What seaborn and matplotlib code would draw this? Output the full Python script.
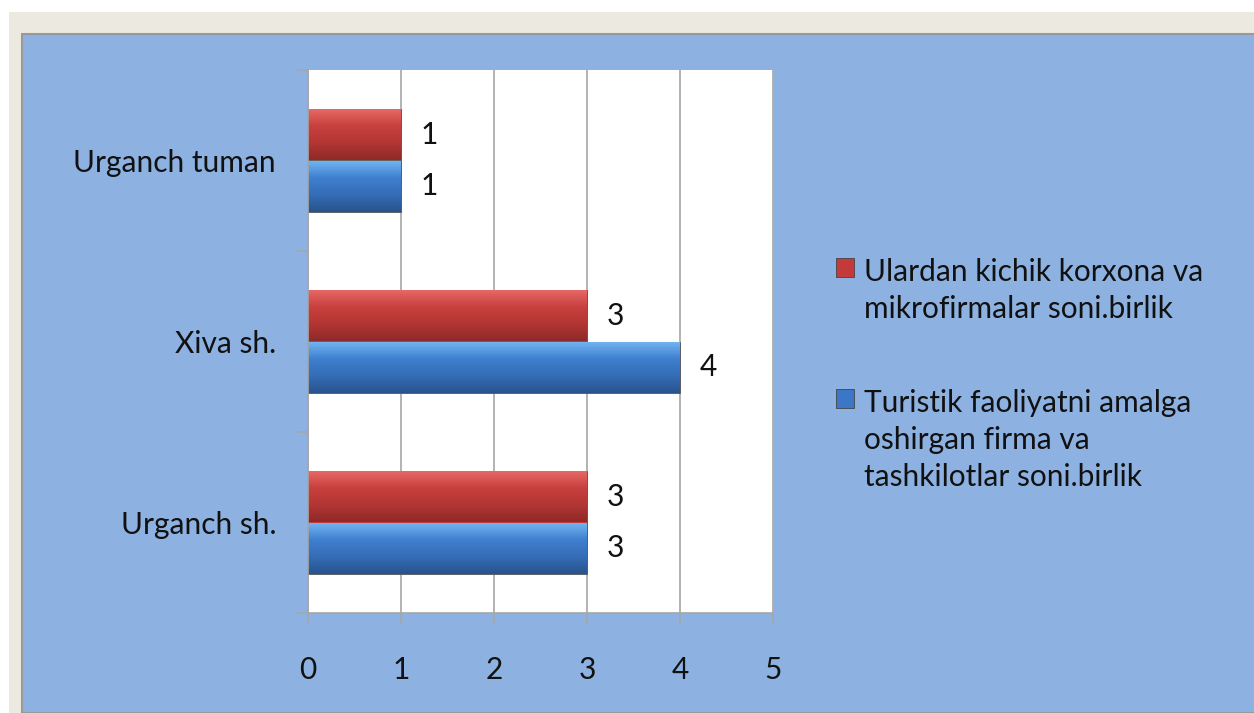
import matplotlib
matplotlib.use("Agg")
import matplotlib.pyplot as plt
from matplotlib.patches import Rectangle
from matplotlib.colors import LinearSegmentedColormap
from matplotlib.ticker import FixedLocator
import seaborn as sns
import pandas as pd
import numpy as np

# data
regions = ["Urganch tuman", "Xiva sh.", "Urganch sh."]
small_firms = [1, 3, 3]     # red series
tour_firms = [1, 4, 3]      # blue series
series_names = ["Ulardan kichik korxona va\nmikrofirmalar soni.birlik",
                "Turistik faoliyatni amalga\noshirgan firma va\ntashkilotlar soni.birlik"]
xticks = [0, 1, 2, 3, 4, 5]

df = pd.DataFrame({
    "region": regions * 2,
    "value": small_firms + tour_firms,
    "series": [series_names[0]] * 3 + [series_names[1]] * 3,
})

sns.set_style("white")
plt.rcParams["font.family"] = ["Lato", "DejaVu Sans"]
FS = 21.5

W, H = 1254, 713
fig = plt.figure(figsize=(W / 100, H / 100), dpi=100, facecolor="white")

# backgrounds: beige frame and blue chart panel
fig.patches.append(Rectangle((9 / W, 0), 1, 1 - 12 / H, transform=fig.transFigure,
                             facecolor="#ECEAE0", edgecolor="none", zorder=-3))
fig.patches.append(Rectangle((22 / W, 0), 1, 1 - 34 / H, transform=fig.transFigure,
                             facecolor="#8DB2E2", edgecolor="#999999", linewidth=1.5, zorder=-2))

ax = fig.add_axes([308 / W, 1 - 613 / H, (773 - 308) / W, (613 - 70) / H])
ax.set_facecolor("white")

sns.barplot(data=df, x="value", y="region", hue="series", orient="h",
            palette=["#C4393A", "#3B77C6"], width=0.57, ax=ax,
            edgecolor="#555555", linewidth=0.6, saturation=1)

# glossy bevel look: vertical gradient clipped to each bar
shades = [["#E86A68", "#C8413F", "#B33634", "#8E2A29"],
          ["#74B6F2", "#3F80D0", "#356DB6", "#28548E"]]
for cont, cols in zip(ax.containers, shades):
    cmap = LinearSegmentedColormap.from_list("g", cols)
    for bar in cont:
        x0, y0 = bar.get_x(), bar.get_y()
        w, h = bar.get_width(), bar.get_height()
        grad = np.linspace(0, 1, 64).reshape(-1, 1)
        im = ax.imshow(grad, cmap=cmap, aspect="auto", zorder=bar.get_zorder() + 0.1,
                       extent=(x0, x0 + w, y0 + h, y0), origin="upper")
        im.set_clip_path(bar)

for cont in ax.containers:
    ax.bar_label(cont, padding=14, fontsize=FS, color="#111111")

ax.set_xlim(0, 5)
ax.set_xticks(xticks)
ax.set_ylim(2.5, -0.5)
ax.xaxis.grid(True, color="#A6A6A6", linewidth=1.2)
ax.set_axisbelow(True)
ax.set_xlabel("")
ax.set_ylabel("")

for s in ["top", "right"]:
    ax.spines[s].set_visible(False)
for s in ["left", "bottom"]:
    ax.spines[s].set_color("#A6A6A6")
    ax.spines[s].set_linewidth(1.2)

ax.tick_params(axis="x", bottom=True, length=8, width=1.2, color="#A6A6A6", pad=23,
               labelsize=FS, labelcolor="#111111", direction="out")
ax.tick_params(axis="y", which="major", left=False, length=0, pad=23, labelsize=FS,
               labelcolor="#111111")
ax.yaxis.set_minor_locator(FixedLocator([-0.5, 0.5, 1.5, 2.5]))
ax.tick_params(axis="y", which="minor", left=True, length=8, width=1.2, color="#A6A6A6",
               direction="out")

leg = ax.legend(loc="upper left", bbox_to_anchor=(821 / W, 1 - 243 / H),
                bbox_transform=fig.transFigure, frameon=False, fontsize=FS,
                handlelength=0.6, handleheight=0.6, handletextpad=0.35,
                labelspacing=2.2, labelcolor="#111111", borderpad=0)
for t in leg.get_texts():
    t.set_linespacing(1.4)
for col in leg._legend_handle_box.get_children():
    for hp in col.get_children():
        hp.align = "top"
for h in leg.legend_handles:
    h.set_edgecolor("#444444")

fig.savefig("out.png", dpi=100, facecolor=fig.get_facecolor())
